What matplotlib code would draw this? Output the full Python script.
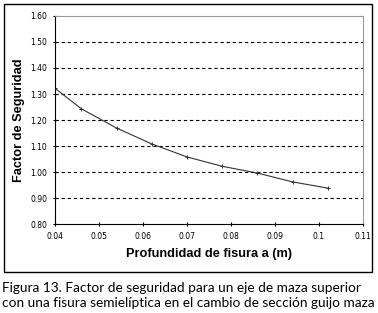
import matplotlib
matplotlib.use("Agg")
import matplotlib.pyplot as plt
from matplotlib.patches import Rectangle

# crack depth a (m) and safety factor
depth = [0.040, 0.046, 0.054, 0.062, 0.070, 0.078, 0.086, 0.094, 0.102]
safety = [1.322, 1.243, 1.169, 1.108, 1.058, 1.022, 0.996, 0.962, 0.938]

x_ticks = [0.04, 0.05, 0.06, 0.07, 0.08, 0.09, 0.10, 0.11]
x_labels = ["0.04", "0.05", "0.06", "0.07", "0.08", "0.09", "0.1", "0.11"]
y_ticks = [0.80, 0.90, 1.00, 1.10, 1.20, 1.30, 1.40, 1.50, 1.60]

caption = ("Figura 13. Factor de seguridad para un eje de maza superior\n"
           "con una fisura semielíptica en el cambio de sección guijo maza")

fig = plt.figure(figsize=(3.78, 3.13), dpi=100)
ax = fig.add_axes([0.1455, 0.2843, 0.8148, 0.6646])

ax.plot(depth, safety, color="#333333", lw=0.8, marker="+", ms=3,
        mew=0.7, mec="#333333")

ax.set_xlim(0.04, 0.11)
ax.set_ylim(0.80, 1.60)
ax.set_xticks(x_ticks)
ax.set_xticklabels(x_labels)
ax.set_yticks(y_ticks)
ax.set_yticklabels(["%.2f" % v for v in y_ticks])
for v in y_ticks[1:-1]:
    ax.axhline(v, color="black", lw=0.8, ls=(0, (3, 2.5)), zorder=0)

ax.spines["top"].set_color("#999999")
ax.spines["right"].set_color("#999999")
ax.spines["left"].set_linewidth(0.8)
ax.spines["bottom"].set_linewidth(0.8)
ax.tick_params(labelsize=5.5, length=3, width=0.8, direction="inout",
               pad=4, labelfontfamily="DejaVu Sans")

ax.set_xlabel("Profundidad de fisura a (m)", fontsize=9.2, fontweight="bold",
              family="Liberation Sans", labelpad=5)
ax.set_ylabel("Factor de Seguridad", fontsize=9.2, fontweight="bold",
              family="Liberation Sans", labelpad=4)

# black frame around the chart
fig.patches.append(Rectangle((0.0106, 0.131), 0.9735, 0.856,
                             transform=fig.transFigure, fill=False,
                             ec="black", lw=1.0))

fig.text(0.005, 0.012, caption, fontsize=9.8, family="Lato",
         ha="left", va="bottom", linespacing=1.3)

fig.savefig("out.png", dpi=100)
